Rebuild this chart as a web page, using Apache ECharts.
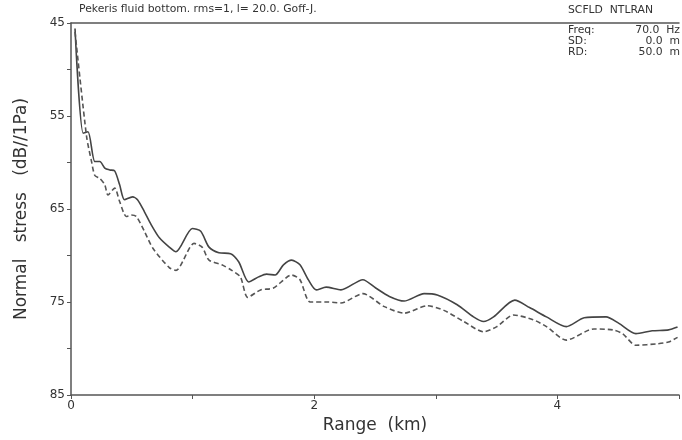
<!DOCTYPE html>
<html>
<head>
<meta charset="utf-8">
<script src="https://cdn.jsdelivr.net/npm/echarts@6/dist/echarts.min.js"></script>
<style>html,body{margin:0;padding:0;background:#fff}#c{width:682px;height:440px}</style>
</head>
<body>
<div id="c"></div>
<script>
// Data
var solidRange = [0.033,0.10,0.14,0.196,0.237,0.278,0.318,0.359,0.40,0.44,0.506,0.547,0.604,0.66,0.727,0.808,0.863,0.998,1.067,1.135,1.216,1.312,1.38,1.461,1.543,1.608,1.679,1.747,1.815,1.883,1.951,2.016,2.098,2.22,2.40,2.506,2.618,2.74,2.904,3.012,3.176,3.31,3.393,3.475,3.649,3.771,3.91,4.073,4.22,4.40,4.506,4.645,4.78,4.914,4.988];
var solidLevel = [45.6,56.85,56.7,59.9,59.9,60.6,60.8,60.9,62.4,64.0,63.7,64.0,65.3,66.7,68.1,69.1,69.6,67.1,67.4,69.1,69.7,69.8,70.7,72.85,72.3,72.0,72.1,71.0,70.5,71.0,72.6,73.7,73.4,73.7,72.6,73.5,74.4,74.9,74.1,74.25,75.3,76.6,77.1,76.6,74.8,75.6,76.6,77.65,76.7,76.6,77.3,78.4,78.1,78.0,77.7];
var dashedRange = [0.033,0.128,0.169,0.196,0.237,0.278,0.304,0.359,0.40,0.455,0.496,0.537,0.604,0.672,0.808,0.863,1.012,1.078,1.135,1.24,1.322,1.393,1.453,1.559,1.665,1.815,1.883,1.967,2.114,2.22,2.40,2.577,2.74,2.93,3.067,3.23,3.393,3.502,3.638,3.80,3.91,4.073,4.30,4.455,4.536,4.645,4.816,4.914,4.988];
var dashedLevel = [45.95,57.2,59.9,61.4,61.7,62.4,63.5,62.75,64.2,65.8,65.65,65.8,67.4,69.2,71.3,71.6,68.7,69.1,70.5,71.0,71.6,72.3,74.5,73.7,73.5,72.1,72.6,75.0,75.0,75.1,74.1,75.5,76.2,75.4,75.9,77.1,78.2,77.65,76.4,76.9,77.65,79.1,77.9,78.0,78.4,79.65,79.5,79.3,78.8];
var xTickLabels = ['0','2','4'];
var yTickLabels = ['45','55','65','75','85'];
var titleText = 'Pekeris fluid bottom. rms=1, l= 20.0. Goff-J.';
var infoHeader = 'SCFLD  NTLRAN';
var infoKeys = ['Freq:', 'SD:', 'RD:'];
var infoVals = ['70.0  Hz', '0.0  m', '50.0  m'];

function pairs(xs, ys){ return xs.map(function(x,i){ return [x, ys[i]]; }); }

var FONT = 'DejaVu Sans';
var TXT = '#333';
var AX = '#555';

var graphics = [
  {type:'text', left:79, top:4, style:{text:titleText, font:'10.8px "'+FONT+'"', fill:TXT}},
  {type:'text', left:568, top:5, style:{text:infoHeader, font:'10.8px "'+FONT+'"', fill:TXT}}
];
infoKeys.forEach(function(k,i){
  graphics.push({type:'text', left:568, top:25+i*11, style:{text:k, font:'10.8px "'+FONT+'"', fill:TXT}});
  graphics.push({type:'text', right:2, top:25+i*11, style:{text:infoVals[i], font:'10.8px "'+FONT+'"', fill:TXT, align:'right'}});
});

var chart = echarts.init(document.getElementById('c'), null, {renderer:'canvas'});
chart.setOption({
  animation:false,
  backgroundColor:'#fff',
  grid:{left:71, right:0, top:23, bottom:45, containLabel:false},
  graphic: graphics,
  xAxis:[{
    type:'value', min:0, max:5, interval:1,
    name:'Range  (km)', nameLocation:'middle', nameGap:22,
    nameTextStyle:{fontFamily:FONT, fontSize:17, color:TXT},
    axisLine:{show:true, onZero:false, lineStyle:{color:AX, width:1.5}},
    axisTick:{show:true, length:4, lineStyle:{color:AX}},
    axisLabel:{fontFamily:FONT, fontSize:12, color:TXT, margin:5,
      formatter:function(v){ var i = xTickLabels.indexOf(String(v)); return i>=0 ? xTickLabels[i] : ''; }},
    splitLine:{show:false}
  },{
    type:'value', position:'top', min:0, max:5,
    axisLine:{show:true, lineStyle:{color:AX, width:1.5}},
    axisTick:{show:false}, axisLabel:{show:false}, splitLine:{show:false}
  }],
  yAxis:{
    type:'value', inverse:true, min:45, max:85, interval:5,
    name:'Normal   stress   (dB//1Pa)', nameLocation:'middle', nameGap:41,
    nameTextStyle:{fontFamily:FONT, fontSize:17, color:TXT},
    axisLine:{show:true, onZero:false, lineStyle:{color:AX, width:1.5}},
    axisTick:{show:true, length:4, lineStyle:{color:AX}},
    axisLabel:{fontFamily:FONT, fontSize:12, color:TXT, margin:6,
      formatter:function(v){ var i = yTickLabels.indexOf(String(v)); return i>=0 ? yTickLabels[i] : ''; }},
    splitLine:{show:false}
  },
  series:[{
    type:'line', data:pairs(solidRange, solidLevel), showSymbol:false, smooth:0.25,
    lineStyle:{color:'#444', width:1.6, type:'solid'}
  },{
    type:'line', data:pairs(dashedRange, dashedLevel), showSymbol:false, smooth:0.25,
    lineStyle:{color:'#555', width:1.6, type:[5,3]}
  }]
});
</script>
</body>
</html>
